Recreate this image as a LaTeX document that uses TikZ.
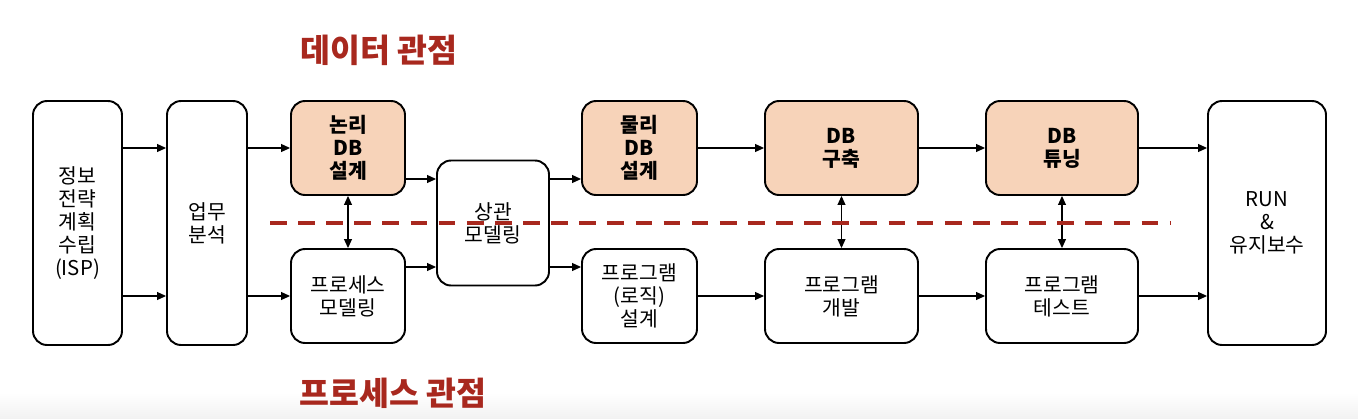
\documentclass[tikz,border=0pt]{standalone}
\usepackage{fontspec}
\setmainfont{Noto Sans CJK KR}
\usepackage{xcolor}
\usetikzlibrary{positioning,arrows.meta,calc}
\definecolor{peach}{HTML}{F7D3B9}
\definecolor{viewred}{HTML}{A8281E}

\begin{document}
\begin{tikzpicture}[font=\fontsize{11.6}{13}\selectfont,
  box/.style={draw,line width=1.1pt,rounded corners=8pt,align=center,inner sep=2pt},
  tall/.style={box,minimum height=4.88cm},
  st/.style={box,minimum height=1.88cm},
  db/.style={st,fill=peach,font=\fontsize{11.6}{13}\selectfont\bfseries},
  ar/.style={-{Triangle[length=1.8mm,width=1.6mm]},line width=0.6pt},
  dar/.style={{Triangle[length=1.8mm,width=1.6mm]}-{Triangle[length=1.8mm,width=1.6mm]},line width=0.6pt},
  view/.style={font=\fontsize{18.5}{22}\selectfont\bfseries,text=viewred}]
\useasboundingbox (0,0) rectangle (27.16,8.36);
\shade[top color=white,bottom color=gray!10] (0,0) rectangle (27.16,0.5);
% planning and analysis
\node[tall,minimum width=1.78cm] (isp) at (1.55,3.90) {정보\\전략\\계획\\수립\\(ISP)};
\node[tall,minimum width=1.60cm] (ub) at (4.14,3.90) {업무\\분석};
% data view (top) and process view (bottom)
\node[db,minimum width=2.28cm] (nl) at (6.96,5.40) {논리\\DB\\설계};
\node[st,minimum width=2.28cm] (ps) at (6.96,2.44) {프로세스\\모델링};
\node[box,minimum width=2.24cm,minimum height=2.50cm] (sg) at (9.86,3.90) {상관\\모델링};
\node[db,minimum width=2.30cm] (ml) at (12.79,5.40) {물리\\DB\\설계};
\node[st,minimum width=2.30cm] (pl) at (12.79,2.44) {프로그램\\(로직)\\설계};
\node[db,minimum width=3.06cm] (gc) at (16.83,5.40) {DB\\구축};
\node[st,minimum width=3.06cm] (gb) at (16.83,2.44) {프로그램\\개발};
\node[db,minimum width=3.04cm] (tn) at (21.24,5.40) {DB\\튜닝};
\node[st,minimum width=3.04cm] (te) at (21.24,2.44) {프로그램\\테스트};
\node[tall,minimum width=2.36cm] (run) at (25.34,3.90) {RUN\\\&\\유지보수};
% arrows
\coordinate (sgu) at ([yshift=8.8mm]sg.west); \coordinate (sgd) at ([yshift=-8.8mm]sg.west);
\coordinate (sgue) at ([yshift=8.8mm]sg.east); \coordinate (sgde) at ([yshift=-8.8mm]sg.east);
\draw[ar] (isp.east |- nl) -- (ub.west |- nl); \draw[ar] (isp.east |- ps) -- (ub.west |- ps);
\draw[ar] (ub.east |- nl) -- (nl.west); \draw[ar] (ub.east |- ps) -- (ps.west);
\draw[ar] (nl.east |- sgu) -- (sgu); \draw[ar] (ps.east |- sgd) -- (sgd);
\draw[ar] (sgue) -- (sgue -| ml.west); \draw[ar] (sgde) -- (sgde -| pl.west);
\draw[ar] (ml) -- (gc); \draw[ar] (gc) -- (tn); \draw[ar] (tn.east) -- (tn.east -| run.west);
\draw[ar] (pl) -- (gb); \draw[ar] (gb) -- (te); \draw[ar] (te.east) -- (te.east -| run.west);
\draw[dar] (nl) -- (ps); \draw[dar] (gc) -- (gb); \draw[dar] (tn) -- (te);
% view separator and titles
\draw[viewred,line width=2pt,dash pattern=on 9.5pt off 6.5pt] (5.40,3.90) -- (23.40,3.90);
\node[view] (dv) at (7.58,7.36) {데이터 관점};
\node[view] (pv) at (7.86,0.50) {프로세스 관점};
\end{tikzpicture}
\end{document}
